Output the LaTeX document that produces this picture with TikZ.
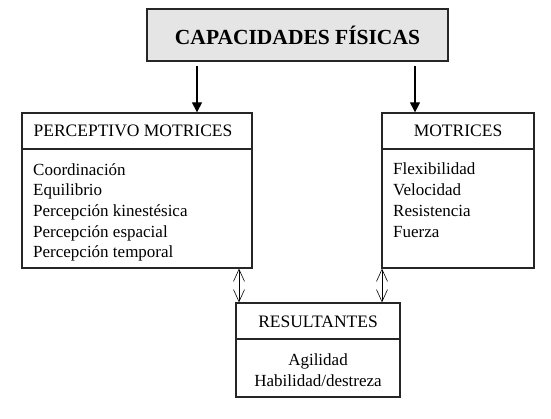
\documentclass[tikz,border=0pt]{standalone}
\usepackage{fontspec}
\setmainfont{Liberation Serif}
\usetikzlibrary{arrows.meta}
\begin{document}
\begin{tikzpicture}[x=1pt,y=-1pt,
  box/.style={draw=black!85,line width=1.3pt,inner sep=0pt},
  topbox/.style={draw=black!85,line width=1.8pt,fill=black!10,inner sep=0pt},
  hdr/.style={font=\fontsize{17.5}{20}\selectfont,inner sep=0pt},
  body/.style={font=\fontsize{17}{20.7}\selectfont,align=left,inner sep=0pt,anchor=north west},
  arr/.style={line width=1.1pt,-{Triangle[length=10pt,width=10pt]}},
  darr/.style={line width=0.8pt,{Straight Barb[length=12pt,width=11pt,line width=0.6pt]}-{Straight Barb[length=12pt,width=11pt,line width=0.6pt]}}
]
\useasboundingbox (0,0) rectangle (551,419);
\node[topbox,minimum width=301pt,minimum height=52pt] (top) at (297.5,35)
  {\fontsize{21.5}{24}\selectfont\bfseries CAPACIDADES FÍSICAS};
\node[box,minimum width=230pt,minimum height=155pt] (pm) at (137,190.5) {};
\node[box,minimum width=152pt,minimum height=155pt] (mo) at (458,190.5) {};
\node[box,minimum width=164pt,minimum height=94pt] (re) at (318,350) {};
% dividers
\coordinate (d1) at (0,149);
\coordinate (d2) at (0,339);
\draw[line width=1.1pt,black!85] (pm.west |- d1) -- (pm.east |- d1);
\draw[line width=1.1pt,black!85] (mo.west |- d1) -- (mo.east |- d1);
\draw[line width=1.1pt,black!85] (re.west |- d2) -- (re.east |- d2);
% headers
\node[hdr] (pmh) at (133,131) {PERCEPTIVO MOTRICES};
\node[hdr] (moh) at (458,131) {MOTRICES};
\node[hdr] (reh) at (318,322) {RESULTANTES};
% bodies
\node[body] (pmb) at (33,163) {Coordinación\\Equilibrio\\Percepción kinestésica\\Percepción espacial\\Percepción temporal};
\node[body] (mob) at (393,163) {Flexibilidad\\Velocidad\\Resistencia\\Fuerza};
\node[font=\fontsize{17}{20.7}\selectfont,align=center,inner sep=0pt] (reb) at (318,370) {Agilidad\\Habilidad/destreza};
% arrows
\coordinate (a1) at (197,0);
\coordinate (a2) at (415,0);
\coordinate (a3) at (239,0);
\coordinate (a4) at (382,0);
\draw[arr,shorten <=4pt] (top.south -| a1) -- (pm.north -| a1);
\draw[arr,shorten <=4pt] (top.south -| a2) -- (mo.north -| a2);
\draw[darr] (pm.south -| a3) -- (re.north -| a3);
\draw[darr] (mo.south -| a4) -- (re.north -| a4);
\end{tikzpicture}
\end{document}
